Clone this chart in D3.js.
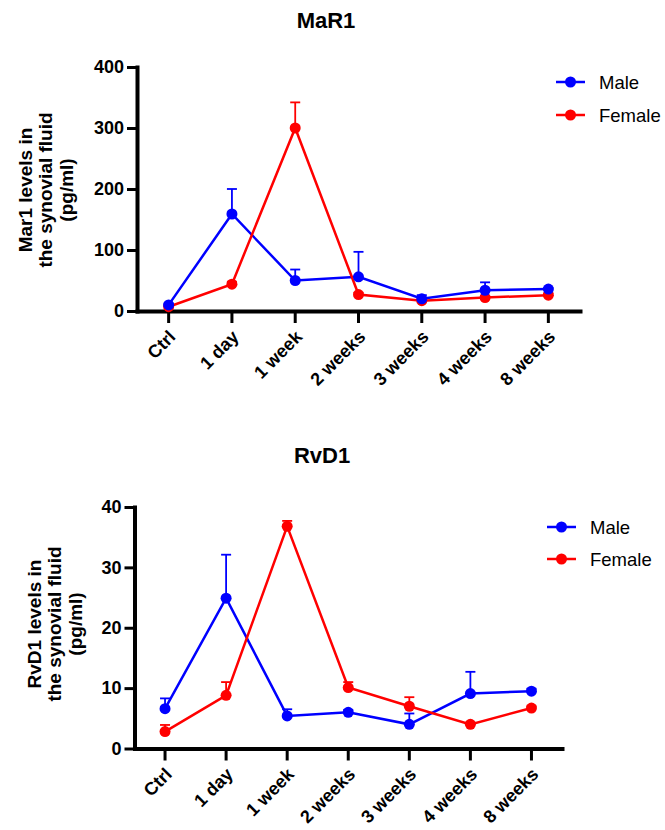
<!DOCTYPE html>
<html lang="en">
<head>
  <meta charset="UTF-8">
  <script src="https://d3js.org/d3.v7.min.js"></script>
  <title>MaR1 / RvD1</title>
  <style>
    body { margin: 0; background: #fff; }
    text { font-family: Arial, "Liberation Sans", sans-serif; }
  </style>
</head>
<body>
  <svg id="chart" width="665" height="830"></svg>

  <script>
    // time points
    var categories = ["Ctrl", "1 day", "1 week", "2 weeks", "3 weeks", "4 weeks", "8 weeks"];
    var seriesNames = ["Male", "Female"];

    // MaR1 (pg/ml), mean and SEM
    var mar1Male = [10, 159, 50, 56, 20, 34, 36];
    var mar1MaleSem = [2, 41, 18, 41, 6, 13, 2];
    var mar1Female = [7, 44, 300, 27, 17, 22, 26];
    var mar1FemaleSem = [2, 4, 42, 3, 2, 3, 3];
    var mar1Ticks = [0, 100, 200, 300, 400];

    // RvD1 (pg/ml), mean and SEM
    var rvd1Male = [6.6, 24.9, 5.4, 6.0, 4.0, 9.1, 9.5];
    var rvd1MaleSem = [1.7, 7.2, 1.1, 0.4, 1.8, 3.6, 0.4];
    var rvd1Female = [2.8, 8.8, 36.8, 10.1, 7.0, 4.0, 6.7];
    var rvd1FemaleSem = [1.1, 2.2, 0.9, 0.9, 1.5, 0.3, 0.3];
    var rvd1Ticks = [0, 10, 20, 30, 40];

    var colors = ["#0000ff", "#ff0000"];

    var svg = d3.select("#chart");

    function drawPanel(p) {
      var g = svg.append("g");

      var x = d3.scaleBand().domain(categories).range([p.left, p.right]).padding(0);
      var y = d3.scaleLinear().domain([0, p.ticks[p.ticks.length - 1]]).range([p.bottom, p.top]);
      var cx = function(c) { return x(c) + x.bandwidth() / 2; };

      // title
      g.append("text")
        .attr("x", p.titleX).attr("y", p.titleY)
        .attr("text-anchor", "middle")
        .style("font-size", "22px").style("font-weight", "bold")
        .text(p.title);

      // y axis
      var yAxis = g.append("g")
        .attr("transform", "translate(" + p.left + ",0)")
        .call(d3.axisLeft(y).tickValues(p.ticks).tickSize(10).tickSizeOuter(0).tickPadding(3));
      // x axis
      var xAxis = g.append("g")
        .attr("transform", "translate(0," + p.bottom + ")")
        .call(d3.axisBottom(x).tickSize(12).tickSizeOuter(0));

      [yAxis, xAxis].forEach(function(a) {
        a.select(".domain").attr("stroke", "#000").attr("stroke-width", 4).attr("stroke-linecap", "square");
        a.selectAll(".tick line").attr("stroke", "#000").attr("stroke-width", 3);
      });
      yAxis.selectAll(".tick text")
        .attr("fill", "#000")
        .style("font-size", "18px").style("font-weight", "bold")
        .style("font-family", "Arial, 'Liberation Sans', sans-serif");
      xAxis.selectAll(".tick text")
        .attr("fill", "#000")
        .attr("text-anchor", "end")
        .attr("y", 0).attr("dy", 0)
        .attr("transform", "translate(8,27) rotate(-45)")
        .style("font-size", "18px").style("font-weight", "bold")
        .style("font-family", "Arial, 'Liberation Sans', sans-serif");

      // y label, three lines
      g.selectAll(".ylab")
        .data(p.yLabel)
        .enter().append("text")
        .attr("class", "ylab")
        .attr("transform", function(d, i) {
          return "translate(" + p.yLabelX[i] + "," + p.yLabelY + ") rotate(-90)";
        })
        .attr("text-anchor", "middle")
        .style("font-size", "19px").style("font-weight", "bold")
        .text(function(d) { return d; });

      var line = d3.line()
        .x(function(d, i) { return cx(categories[i]); })
        .y(function(d) { return y(d); });

      // lines
      p.series.forEach(function(s, k) {
        g.append("path")
          .datum(s.values)
          .attr("d", line)
          .attr("fill", "none")
          .attr("stroke", colors[k])
          .attr("stroke-width", 2.5);
      });

      // error bars (upper only)
      p.series.forEach(function(s, k) {
        var eb = g.append("g").attr("stroke", colors[k]).attr("stroke-width", 1.8);
        s.values.forEach(function(v, i) {
          var xc = cx(categories[i]);
          eb.append("line")
            .attr("x1", xc).attr("x2", xc)
            .attr("y1", y(v)).attr("y2", y(v + s.sem[i]));
          eb.append("line")
            .attr("x1", xc - 5).attr("x2", xc + 5)
            .attr("y1", y(v + s.sem[i])).attr("y2", y(v + s.sem[i]));
        });
      });

      // markers, female under male
      [1, 0].forEach(function(k) {
        g.selectAll(".dot" + k)
          .data(p.series[k].values)
          .enter().append("circle")
          .attr("cx", function(d, i) { return cx(categories[i]); })
          .attr("cy", function(d) { return y(d); })
          .attr("r", 5.5)
          .attr("fill", colors[k]);
      });

      // legend
      var leg = g.selectAll(".leg")
        .data(seriesNames)
        .enter().append("g")
        .attr("transform", function(d, i) { return "translate(0," + p.legendY[i] + ")"; });
      leg.append("line")
        .attr("x1", p.legendX).attr("x2", p.legendX + 29)
        .attr("stroke", function(d, i) { return colors[i]; })
        .attr("stroke-width", 2.5);
      leg.append("circle")
        .attr("cx", p.legendX + 14.5).attr("r", 5.5)
        .attr("fill", function(d, i) { return colors[i]; });
      leg.append("text")
        .attr("x", p.legendX + 43).attr("y", 6.5)
        .style("font-size", "18.5px")
        .text(function(d) { return d; });
    }

    drawPanel({
      title: "MaR1", titleX: 326, titleY: 28,
      top: 67, bottom: 311, left: 137, right: 580,
      ticks: mar1Ticks,
      yLabel: ["Mar1 levels in", "the synovial fluid", "(pg/ml)"],
      yLabelX: [32, 52, 73], yLabelY: 190,
      legendX: 556, legendY: [82, 115],
      series: [
        { values: mar1Male, sem: mar1MaleSem },
        { values: mar1Female, sem: mar1FemaleSem }
      ]
    });

    drawPanel({
      title: "RvD1", titleX: 322, titleY: 463,
      top: 507, bottom: 748.5, left: 134.5, right: 562,
      ticks: rvd1Ticks,
      yLabel: ["RvD1 levels in", "the synovial fluid", "(pg/ml)"],
      yLabelX: [41, 61, 82], yLabelY: 624,
      legendX: 547, legendY: [527, 559],
      series: [
        { values: rvd1Male, sem: rvd1MaleSem },
        { values: rvd1Female, sem: rvd1FemaleSem }
      ]
    });
  </script>
</body>
</html>
